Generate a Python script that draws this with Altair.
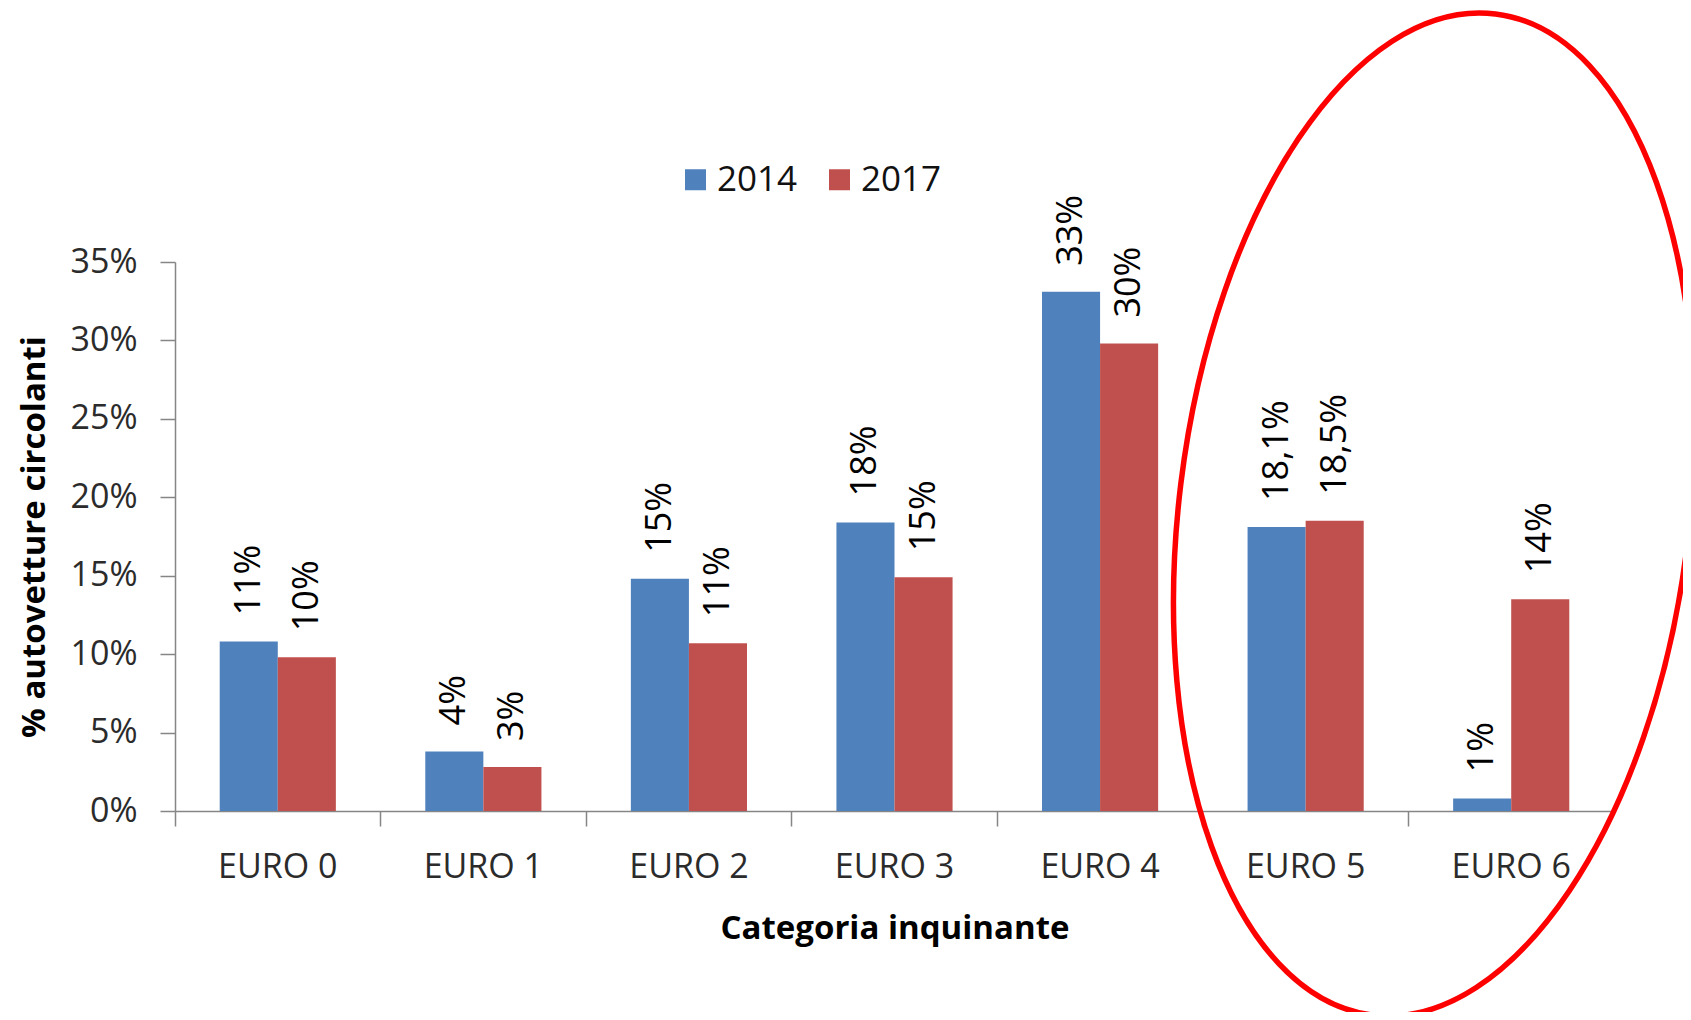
import altair as alt
import pandas as pd

categories = ["EURO 0", "EURO 1", "EURO 2", "EURO 3", "EURO 4", "EURO 5", "EURO 6"]
years = ["2014", "2017"]
values_2014 = [10.8, 3.8, 14.8, 18.4, 33.1, 18.1, 0.8]
values_2017 = [9.8, 2.8, 10.7, 14.9, 29.8, 18.5, 13.5]
labels_2014 = ["11%", "4%", "15%", "18%", "33%", "18,1%", "1%"]
labels_2017 = ["10%", "3%", "11%", "15%", "30%", "18,5%", "14%"]
y_ticks = [0, 5, 10, 15, 20, 25, 30, 35]
colors = ["#4F81BD", "#C0504D"]

rows = []
for i, c in enumerate(categories):
    rows.append({"cat": c, "year": years[0], "value": values_2014[i], "label": labels_2014[i]})
    rows.append({"cat": c, "year": years[1], "value": values_2017[i], "label": labels_2017[i]})
df = pd.DataFrame(rows)

FONT = "Open Sans"

x_enc = alt.X(
    "cat:N",
    sort=categories,
    scale=alt.Scale(paddingInner=0, paddingOuter=0),
    axis=alt.Axis(
        title="Categoria inquinante",
        titleFont=FONT, titleFontSize=33, titleFontWeight="bold", titleColor="#000000",
        titleBaseline="alphabetic", titleY=127,
        labelFont=FONT, labelFontSize=34, labelColor="#2b2b2b", labelAngle=0,
        labelPadding=24,
        bandPosition=0, tickSize=15, tickColor="#868686", tickWidth=1.5,
        domainColor="#868686", domainWidth=1.5,
    ),
)
xo_enc = alt.XOffset("year:N", sort=years, scale=alt.Scale(paddingInner=0, paddingOuter=0.77))
y_enc = alt.Y(
    "value:Q",
    scale=alt.Scale(domain=[0, 35], nice=False),
    axis=alt.Axis(
        title="% autovetture circolanti",
        titleFont=FONT, titleFontSize=33, titleFontWeight="bold", titleColor="#000000",
        titleBaseline="middle", titleX=-141, titleY=274.5, titleAngle=270,
        values=y_ticks, labelExpr="datum.value + '%'",
        labelFont=FONT, labelFontSize=34, labelColor="#2b2b2b", labelPadding=23,
        tickSize=15, tickColor="#868686", tickWidth=1.5,
        domainColor="#868686", domainWidth=1.5, grid=False,
    ),
)
color_enc = alt.Color(
    "year:N",
    scale=alt.Scale(domain=years, range=colors),
    legend=alt.Legend(
        title=None, orient="none", legendX=503, legendY=-100, direction="horizontal",
        symbolType="square", symbolSize=441, symbolStrokeWidth=0, symbolOpacity=1,
        labelFont=FONT, labelFontSize=35, labelColor="#111111", labelOffset=4,
        columnPadding=24, padding=0,
    ),
)

base = alt.Chart(df)
bars = base.mark_bar(strokeWidth=0).encode(x=x_enc, xOffset=xo_enc, y=y_enc, color=color_enc)
texts = base.mark_text(
    angle=270, align="left", baseline="middle", dx=26,
    font=FONT, fontSize=36, color="#000000",
).encode(x=x_enc, xOffset=xo_enc, y=y_enc, text="label:N")

a = 0.5057
k = 0.5523
ka = round(k * a, 4)
ellipse_path = (
    f"M 0 -1 C {ka} -1 {a} -{k} {a} 0 C {a} {k} {ka} 1 0 1 "
    f"C -{ka} 1 -{a} {k} -{a} 0 C -{a} -{k} -{ka} -1 0 -1 Z"
)
ell_df = pd.DataFrame({"note": ["EURO 5-6"]})
ellipse = alt.Chart(ell_df).mark_point(
    shape=ellipse_path, size=1017274, angle=7, filled=False,
    stroke="#FF0000", strokeWidth=5.5, opacity=1,
).encode(x=alt.value(1259), y=alt.value(252.5))

chart = (
    alt.layer(bars, texts, ellipse)
    .properties(
        width=1439, height=549,
        autosize=alt.AutoSizeParams(type="none"),
        padding={"left": 167, "top": 254, "right": 69, "bottom": 201},
        background="#FFFFFF",
    )
    .configure_view(stroke=None)
)

chart.save("out.html", embed_options={"renderer": "svg", "actions": False})
